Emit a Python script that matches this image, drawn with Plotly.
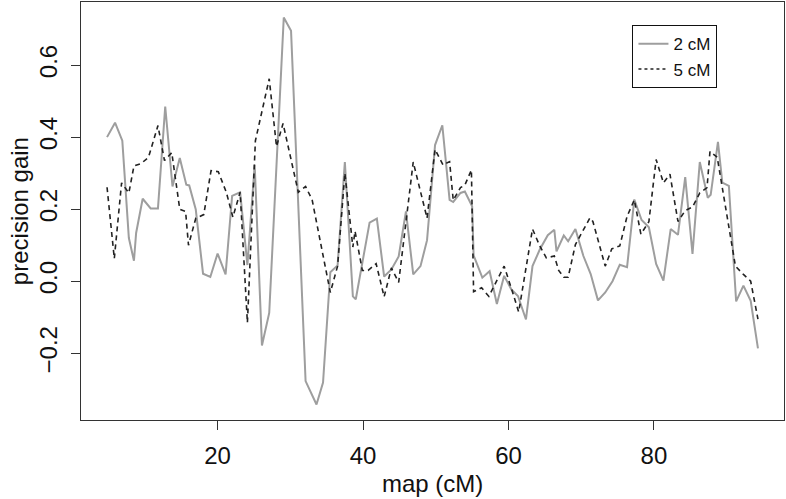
import plotly.graph_objects as go

# precision gain along the map, 2 cM spacing (solid grey line)
map_2cm = [4.8, 5.9, 6.9, 7.8, 8.5, 8.8, 9.7, 10.8, 11.8, 12.8, 13.8, 14.8, 15.7, 16.1,
           17.0, 18.0, 19.0, 20.0, 21.1, 22.0, 23.1, 24.1, 25.1, 26.1, 27.1, 29.1, 30.1,
           32.1, 33.6, 34.5, 35.5, 36.5, 37.5, 38.6, 39.0, 40.9, 41.9, 42.9, 43.9, 44.9,
           45.9, 46.9, 47.9, 48.8, 49.9, 50.9, 51.9, 52.4, 53.4, 54.0, 55.0, 55.2, 56.4,
           57.4, 58.4, 59.4, 60.4, 61.3, 62.4, 63.3, 64.3, 65.4, 66.3, 66.6, 67.6, 68.2,
           69.2, 70.3, 71.3, 72.3, 73.3, 74.3, 75.3, 76.3, 77.3, 78.3, 79.3, 80.3, 81.3,
           82.3, 83.3, 84.3, 85.3, 86.3, 87.4, 87.8, 88.8, 89.4, 90.3, 91.3, 92.3, 93.3, 94.3]
gain_2cm = [0.40, 0.44, 0.39, 0.12, 0.057, 0.134, 0.229, 0.202, 0.202, 0.485, 0.263, 0.342,
            0.268, 0.266, 0.199, 0.021, 0.012, 0.077, 0.019, 0.237, 0.247, 0.045, 0.323,
            -0.178, -0.088, 0.732, 0.695, -0.277, -0.342, -0.281, 0.025, 0.044, 0.331,
            -0.042, -0.05, 0.163, 0.174, 0.013, 0.033, 0.069, 0.194, 0.019, 0.042, 0.114,
            0.378, 0.433, 0.226, 0.22, 0.245, 0.249, 0.208, 0.072, 0.01, 0.028, -0.063,
            0.015, -0.023, -0.041, -0.106, 0.042, 0.088, 0.128, 0.143, 0.083, 0.127, 0.111,
            0.145, 0.07, 0.02, -0.053, -0.031, 0.0, 0.046, 0.039, 0.227, 0.17, 0.15, 0.048,
            0.002, 0.145, 0.129, 0.289, 0.076, 0.331, 0.232, 0.24, 0.387, 0.274, 0.265,
            -0.056, -0.012, -0.054, -0.186]

# precision gain along the map, 5 cM spacing (dashed black line)
map_5cm = [4.8, 5.8, 6.8, 7.8, 8.5, 9.5, 10.5, 11.8, 12.7, 13.7, 14.8, 15.6, 16.0, 17.0,
           18.1, 19.1, 20.1, 21.2, 22.1, 23.1, 24.1, 25.2, 27.1, 28.1, 29.0, 31.1, 32.1,
           33.0, 35.5, 36.5, 37.5, 38.6, 38.9, 39.9, 40.7, 41.8, 42.9, 43.9, 44.9, 46.9,
           48.8, 49.9, 51.0, 51.9, 52.4, 53.4, 54.0, 54.9, 55.2, 56.3, 57.3, 59.4, 60.4,
           61.4, 63.3, 64.3, 65.2, 66.3, 66.9, 67.6, 68.2, 69.2, 71.2, 71.6, 73.3, 74.2,
           75.3, 76.3, 77.3, 78.2, 79.3, 80.3, 81.3, 82.2, 83.3, 84.3, 85.3, 86.3, 87.3,
           87.7, 88.7, 91.2, 92.3, 93.3, 94.3]
gain_5cm = [0.261, 0.063, 0.273, 0.245, 0.32, 0.327, 0.344, 0.432, 0.335, 0.357, 0.2, 0.194,
            0.1, 0.175, 0.185, 0.307, 0.304, 0.247, 0.178, 0.247, -0.115, 0.39, 0.562,
            0.374, 0.438, 0.247, 0.263, 0.226, -0.031, 0.042, 0.3, 0.095, 0.139, 0.03,
            0.03, 0.049, -0.043, 0.037, -0.003, 0.331, 0.175, 0.366, 0.323, 0.332, 0.225,
            0.26, 0.267, 0.309, -0.029, -0.018, -0.042, 0.042, -0.02, -0.085, 0.145, 0.098,
            0.065, 0.07, 0.03, 0.011, 0.011, 0.102, 0.176, 0.166, 0.042, 0.09, 0.098, 0.18,
            0.226, 0.131, 0.165, 0.338, 0.273, 0.297, 0.166, 0.196, 0.206, 0.245, 0.26,
            0.36, 0.344, 0.042, 0.019, 0.0, -0.105]

x_ticks = [20, 40, 60, 80]
y_ticks = [-0.2, 0.0, 0.2, 0.4, 0.6]

FONT = "Liberation Sans, Arial, sans-serif"

fig = go.Figure()

fig.add_trace(go.Scatter(
    x=map_2cm, y=gain_2cm, mode="lines", showlegend=False,
    line=dict(color="#9e9e9e", width=2)
))
fig.add_trace(go.Scatter(
    x=map_5cm, y=gain_5cm, mode="lines", showlegend=False,
    line=dict(color="#222222", width=1.6, dash="5px,4px")
))

# legend entries (the original legend shows a dotted key for 5 cM)
fig.add_trace(go.Scatter(
    x=[None], y=[None], mode="lines", name="2 cM",
    line=dict(color="#9e9e9e", width=2)
))
fig.add_trace(go.Scatter(
    x=[None], y=[None], mode="lines", name="5 cM",
    line=dict(color="#222222", width=1.6, dash="dot")
))

axis_common = dict(
    showgrid=False, zeroline=False, automargin=False,
    showline=True, linecolor="#333333", linewidth=1.3, mirror=True,
    ticks="outside", ticklen=9, tickwidth=1.2, tickcolor="#333333",
    tickfont=dict(size=24, color="#111111", family=FONT),
)

fig.update_layout(
    width=786, height=499,
    margin=dict(l=81, r=2, t=2, b=79, autoexpand=False),
    plot_bgcolor="white", paper_bgcolor="white",
    font=dict(family=FONT, color="#111111"),
    xaxis=dict(range=[1.22, 97.88], tickvals=x_ticks, ticklabelstandoff=5, **axis_common),
    yaxis=dict(range=[-0.385, 0.775], tickvals=y_ticks, tickformat=".1f",
               tickangle=-90, ticklabelstandoff=4, **axis_common),
    legend=dict(
        x=0.784, y=0.945, xanchor="left", yanchor="top",
        bgcolor="white", bordercolor="#111111", borderwidth=1.3,
        font=dict(size=17, family=FONT, color="#111111"),
        itemwidth=30, tracegroupgap=0,
    ),
    annotations=[
        dict(text="map (cM)", xref="paper", yref="paper", x=0.5, y=-0.152,
             xanchor="center", yanchor="middle", showarrow=False,
             font=dict(size=24, family=FONT, color="#111111")),
        dict(text="precision gain", xref="paper", yref="paper", x=-0.088, y=0.5,
             xanchor="center", yanchor="middle", textangle=-90, showarrow=False,
             font=dict(size=24, family=FONT, color="#111111")),
    ],
)

# drop the default page margin so the figure sits at the window's corner
fig.write_html("out.html", config={"displayModeBar": False},
               post_script="document.body.style.margin='0';")
